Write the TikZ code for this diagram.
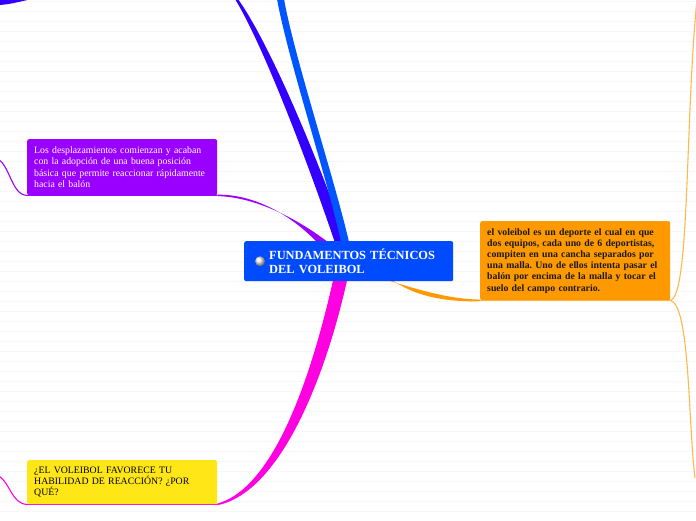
\documentclass[tikz,border=0pt]{standalone}
\usepackage{fontspec}
\setmainfont{Liberation Serif}
\usetikzlibrary{calc}
\usetikzlibrary{backgrounds}
\definecolor{coreblue}{HTML}{004BFF}
\definecolor{skyblue}{HTML}{0055FF}
\definecolor{indigo}{HTML}{3300FF}
\definecolor{violetbox}{HTML}{9900FF}
\definecolor{magentaline}{HTML}{FF00E0}
\definecolor{yellowbox}{HTML}{FFE617}
\definecolor{orangebox}{HTML}{FF9900}
\definecolor{lightorange}{HTML}{FFB84D}
\frenchspacing
\tikzset{
  topic/.style={anchor=north west, rounded corners=2pt, inner xsep=7pt, inner ysep=0pt,
    align=left, text width=176pt, font=\fontsize{9.8}{11.3}\selectfont,
    execute at begin node={\hyphenpenalty=10000}},
  rule/.style={black!3, line width=0.6pt},
  twig/.style={line width=1.1pt}
}

\begin{document}
\begin{tikzpicture}[x=1pt, y=-1pt]
  \useasboundingbox (0,0) rectangle (696,520);

  \node [topic, fill=coreblue, text=white, text width=195pt, minimum height=40pt,
    font=\bfseries\fontsize{12.4}{14}\selectfont] (core) at (244,241)
    {\hspace*{18pt}FUNDAMENTOS TÉCNICOS\\\hspace*{18pt}DEL VOLEIBOL};
  \shade [ball color=gray!15] ($(core.west)+(16,0)$) circle (5);

  \node [topic, fill=violetbox, text=white, minimum height=56pt] (desplaz) at (27,139)
    {Los desplazamientos comienzan y acaban\\con la adopción de una buena posición\\básica que permite reaccionar rápidamente\\hacia el balón};
  \node [topic, fill=yellowbox, minimum height=44pt] (pregunta) at (27,460)
    {¿EL VOLEIBOL FAVORECE TU\\HABILIDAD DE REACCIÓN? ¿POR\\QUÉ?};
  \node [topic, fill=orangebox, text=black!90, minimum height=79pt,
    font=\bfseries\fontsize{9.8}{11.2}\selectfont] (deporte) at (480,221)
    {el voleibol es un deporte el cual en que\\dos equipos, cada uno de 6 deportistas,\\compiten en una cancha separados por\\una malla. Uno de ellos intenta pasar el\\balón por encima de la malla y tocar el\\suelo del campo contrario.};

  \coordinate (off-a) at (236,-1);
  \coordinate (off-b) at (280,-1);
  \coordinate (desplaz-out) at (-1,160);
  \coordinate (pregunta-out) at (-1,476);
  \coordinate (deporte-up) at (697,-1);
  \coordinate (deporte-down) at (695,478);

  \begin{scope}[on background layer]
    % ruled paper
    \foreach \y in {1,11,...,511}
      \draw [rule] (0,\y) -- (696,\y);

    % branches leaving the core
    \fill [indigo] ($(core.north)+(-13,4)$) .. controls (314,180) and (266,50) .. ($(off-a)+(-1,0)$)
      -- ($(off-a)+(2,0)$) .. controls (274,50) and (326,180) .. ($(core.north)+(-1,4)$) -- cycle;
    \fill [skyblue] ($(core.north)+(-7,4)$) .. controls (328,180) and (288,60) .. ($(off-b)+(-3,0)$)
      -- ($(off-b)+(4,0)$) .. controls (295,60) and (335,180) .. ($(core.north)+(1,4)$) -- cycle;
    \fill [violetbox] ($(core.north)+(-29,4)$) .. controls (290,213) and (252,194) .. ($(desplaz.south east)+(0,-0.7)$)
      -- ($(desplaz.south east)+(0,0.7)$) .. controls (254,197) and (296,217) .. ($(core.north)+(-17,4)$) -- cycle;
    \fill [magentaline] ($(core.south)+(-15,-4)$) .. controls (313,370) and (276,487) .. ($(pregunta.south east)+(0,-0.8)$)
      -- ($(pregunta.south east)+(0,0.8)$) .. controls (282,492) and (327,372) .. ($(core.south)+(-1,-4)$) -- cycle;
    \fill [orangebox] ($(core.south)+(30,-4)$) .. controls (418,290) and (450,299.2) .. ($(deporte.south west)+(0,-0.8)$)
      -- ($(deporte.south west)+(0,0.8)$) .. controls (450,302) and (415,298) .. ($(core.south)+(40,-4)$) -- cycle;

    % underlines and outer twigs
    \draw [twig, violetbox] (desplaz.south east) -- (desplaz.south west)
      .. controls (12,195) and (10,167) .. (desplaz-out);
    \draw [twig, magentaline] (pregunta.south east) -- (pregunta.south west)
      .. controls (12,504) and (10,483) .. (pregunta-out);
    \draw [twig, lightorange] (deporte.south west) -- (deporte.south east)
      .. controls (690,296) and (685,120) .. (deporte-up);
    \draw [twig, lightorange] (deporte.south east)
      .. controls (690,305) and (688,420) .. (deporte-down);

    % tail of a branch above the page
    \fill [indigo] (-1,-1) -- (32,-1) .. controls (20,1.5) and (10,4.5) .. (-1,5) -- cycle;
  \end{scope}
\end{tikzpicture}
\end{document}
